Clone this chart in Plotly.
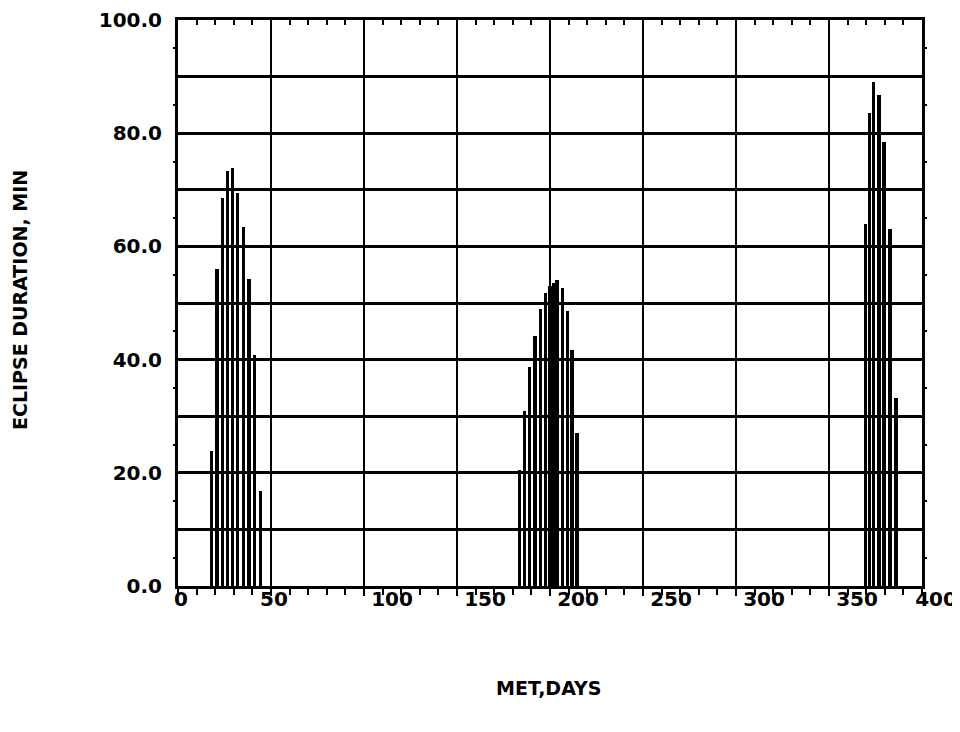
import plotly.graph_objects as go

# Data
days_c1 = [18, 21, 24, 26.7, 29.3, 32.2, 35.2, 38.2, 41, 44.2]
dur_c1 = [23.8, 56.0, 68.5, 73.4, 73.9, 69.5, 63.5, 54.2, 40.8, 16.8]
days_c2 = [183.6, 186.3, 189.2, 191.9, 194.9, 197.6, 200, 201.9, 203.8, 206.5, 209.4, 211.8, 214.5]
dur_c2 = [20.5, 31.0, 38.7, 44.2, 48.9, 51.7, 53.0, 53.5, 54.0, 52.6, 48.5, 41.7, 27.0]
days_c3 = [369.4, 371.8, 373.7, 376.9, 379.6, 382.8, 386.0]
dur_c3 = [64.0, 83.5, 89.0, 86.7, 78.5, 63.0, 33.3]

x_ticks = [0, 50, 100, 150, 200, 250, 300, 350, 400]
x_ticklabels = ["0", "50", "100", "150", "200", "250", "300", "350", "400"]
y_ticks = [0, 20, 40, 60, 80, 100]
y_ticklabels = ["0.0", "20.0", "40.0", "60.0", "80.0", "100.0"]
y_minor = [5, 15, 25, 35, 45, 55, 65, 75, 85, 95]

# style: horizontal pixel shift of each x tick label (as in the original typesetting)
x_label_shift = [3, 3, 28, 28, 28, 28, 28, 28, 14]

days = days_c1 + days_c2 + days_c3
dur = dur_c1 + dur_c2 + dur_c3

# page offset (body margin of 8px); keep the figure inside the 960x732 window
OFF = 8
W, H = 960 - OFF, 732 - OFF
l, t = 178 - OFF, 20 - OFF
pw, ph = 744, 566
r = W - l - pw
b = H - t - ph

tickfont = dict(family="DejaVu Sans, sans-serif", size=20, color="black", weight="bold")
titlefont = dict(family="DejaVu Sans, sans-serif", size=19, color="black", weight="bold")

fig = go.Figure()
fig.add_trace(go.Bar(x=days, y=dur, width=1.7, marker=dict(color="black", line=dict(width=0)),
                     showlegend=False))


def dummy(**kw):
    fig.add_trace(go.Scatter(x=[0], y=[0], mode="markers", marker=dict(opacity=0),
                             showlegend=False, hoverinfo="skip", **kw))


dummy(xaxis="x2")
dummy(yaxis="y2")
dummy(yaxis="y3")

layout_axes = {}
# label axes: one per distinct shift
for i, sh in enumerate(sorted(set(x_label_shift))):
    idx = 3 + i
    vals = [v for v, s in zip(x_ticks, x_label_shift) if s == sh]
    txt = [lab for lab, s in zip(x_ticklabels, x_label_shift) if s == sh]
    layout_axes[f"xaxis{idx}"] = dict(
        range=[0, 400], overlaying="x", side="bottom", tickvals=vals, ticktext=txt,
        ticks="", automargin=False, showgrid=False, zeroline=False, showline=False,
        tickfont=tickfont, ticklabelstandoff=-1, ticklabelshift=sh, ticklabeloverflow="allow")
    dummy(xaxis=f"x{idx}")

fig.update_layout(
    width=W, height=H,
    margin=dict(l=l, r=r, t=t, b=b, autoexpand=False),
    paper_bgcolor="white", plot_bgcolor="white",
    bargap=0,
    xaxis=dict(range=[0, 400], tickvals=x_ticks, automargin=False, showticklabels=False,
               ticks="outside", ticklen=7, tickwidth=2,
               tickcolor="black", showgrid=True, gridcolor="black", gridwidth=2,
               showline=True, linecolor="black", linewidth=3, mirror=True, zeroline=False,
               minor=dict(dtick=10, ticks="outside", ticklen=6, tickwidth=2, tickcolor="black",
                          showgrid=False)),
    xaxis2=dict(range=[0, 400], overlaying="x", side="top", showticklabels=False, automargin=False,
                ticks="inside", dtick=10, tick0=0, ticklen=5, tickwidth=2, tickcolor="black",
                showgrid=False, zeroline=False, showline=False),
    yaxis=dict(range=[0, 100], tickvals=y_ticks, ticktext=y_ticklabels, ticks="", automargin=False,
               showgrid=True, gridcolor="black", gridwidth=2.5,
               showline=True, linecolor="black", linewidth=3, mirror=True, zeroline=False,
               minor=dict(dtick=10, tick0=0, ticks="", showgrid=True, gridcolor="black", gridwidth=2.5),
               tickfont=tickfont, ticklabelstandoff=9, ticklabeloverflow="allow"),
    yaxis2=dict(range=[0, 100], overlaying="y", side="right", showticklabels=False, automargin=False,
                tickvals=y_minor, ticks="outside", ticklen=4,
                tickwidth=2, tickcolor="black", showgrid=False, zeroline=False, showline=False),
    yaxis3=dict(range=[0, 100], overlaying="y", side="left", showticklabels=False, automargin=False,
                tickvals=y_minor, ticks="outside", ticklen=4,
                tickwidth=2, tickcolor="black", showgrid=False, zeroline=False, showline=False),
    annotations=[
        dict(text="MET,DAYS", xref="paper", yref="paper", showarrow=False, font=titlefont,
             x=(548 - OFF - l) / pw, y=(H - b - (688 - OFF)) / ph, xanchor="center", yanchor="middle"),
        dict(text="ECLIPSE DURATION, MIN", xref="paper", yref="paper", showarrow=False,
             textangle=-90, font=titlefont,
             x=(20 - OFF - l) / pw, y=(H - b - (300 - OFF)) / ph, xanchor="center", yanchor="middle"),
    ],
    **layout_axes,
)

fig.write_html("out.html")
